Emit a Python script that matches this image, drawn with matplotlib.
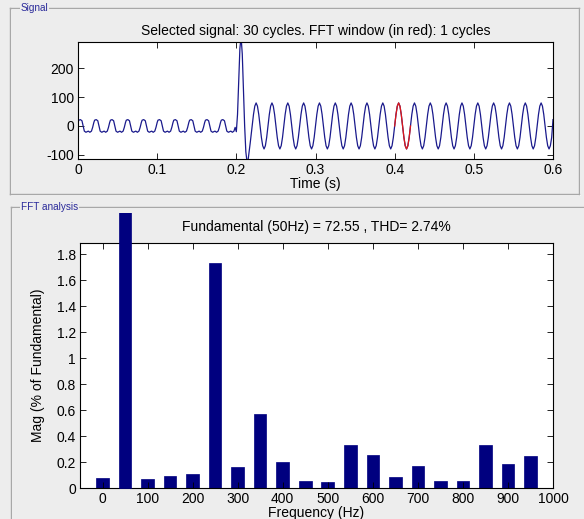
import numpy as np
import matplotlib.pyplot as plt
from matplotlib.lines import Line2D
from matplotlib.ticker import FormatStrFormatter
from matplotlib.transforms import Bbox, TransformedBbox

plt.rcParams['font.family'] = ['Liberation Sans', 'DejaVu Sans']
plt.rcParams['axes.unicode_minus'] = False

# --- signal trace ---
# one pre-fault cycle (20 ms), offsets in ms
pre_cycle_ms = [0, 1, 3, 5, 6.5, 8, 10, 13, 15, 17, 18.5]
pre_cycle_val = [12, 20, 22, 18, 0, -18, -22, -18, -22, -18, -5]
n_pre_cycles = 10

# fault transient around 0.2 s
transient_ms = [200, 201.5, 203, 204.5, 206, 207.5, 209, 210.5, 212, 213.5, 215, 217.5]
transient_val = [-20, 40, 160, 270, 310, 250, 130, 0, -90, -125, -115, -60]

# one post-fault cycle (20 ms), starts at 220 ms
post_cycle_ms = [0, 1.67, 3.33, 5, 6.67, 8.33, 10, 11.67, 13.33, 15, 16.67, 18.33]
post_cycle_val = [0, 40, 69, 80, 69, 40, 0, -40, -69, -80, -69, -40]
n_post_cycles = 19
end_ms, end_val = 600, 22

fft_window = (0.40, 0.42)

# --- FFT bars ---
freqs = [0, 50, 100, 150, 200, 250, 300, 350, 400, 450,
         500, 550, 600, 650, 700, 750, 800, 850, 900, 950]
mags = [0.077, 100, 0.069, 0.09, 0.108, 1.731, 0.161, 0.571, 0.202, 0.056,
        0.044, 0.333, 0.253, 0.082, 0.169, 0.056, 0.056, 0.333, 0.187, 0.246]

t_ms, v = [], []
for k in range(n_pre_cycles):
    t_ms += [20 * k + m for m in pre_cycle_ms]
    v += pre_cycle_val
t_ms += transient_ms
v += transient_val
for k in range(n_post_cycles):
    t_ms += [220 + 20 * k + m for m in post_cycle_ms]
    v += post_cycle_val
t_ms.append(end_ms)
v.append(end_val)
t = np.array(t_ms) / 1000.0
v = np.array(v)

W, H = 584, 519
bg = '#ededed'
fs = 10
fig = plt.figure(figsize=(W / 100, H / 100), dpi=100, facecolor=bg)


def fx(x):
    return x / W


def fy(y):
    return 1 - y / H


def frame_line(x0, y0, x1, y1):
    fig.add_artist(Line2D([fx(x0), fx(x1)], [fy(y0), fy(y1)], color='#a8a8a8',
                          lw=1, transform=fig.transFigure))
    fig.add_artist(Line2D([fx(x0) + 1 / W, fx(x1) + 1 / W], [fy(y0) - 1 / H, fy(y1) - 1 / H],
                          color='white', lw=0.8, transform=fig.transFigure, zorder=0.5))


# panels
frame_line(10, 8, 579, 8)
frame_line(10, 8, 10, 194)
frame_line(10, 194, 579, 194)
frame_line(579, 8, 579, 194)
frame_line(11, 207, 584, 207)
frame_line(11, 207, 11, 530)
fig.text(fx(21), fy(8), 'Signal', color='#2a2a9a', fontsize=7.2, va='center', ha='left',
         bbox=dict(facecolor=bg, edgecolor='none', pad=0.5))
fig.text(fx(21), fy(207), 'FFT analysis', color='#2a2a9a', fontsize=7.2, va='center',
         ha='left', bbox=dict(facecolor=bg, edgecolor='none', pad=0.5))

navy = '#00007f'

# --- signal axes ---
ax1 = fig.add_axes([fx(78), fy(159), (553 - 78) / W, (159 - 42) / H])
ax1.plot(t, v, color='#1a1a8c', lw=0.9)
win = (t >= fft_window[0]) & (t <= fft_window[1] + 1e-9)
ax1.plot(t[win], v[win], color='#e01818', lw=0.9)
ax1.set_xlim(0, 0.6)
ax1.set_ylim(-115, 292)
ax1.set_xticks(np.arange(0, 0.61, 0.1))
ax1.set_yticks([-100, 0, 100, 200])
ax1.xaxis.set_major_formatter(FormatStrFormatter('%g'))
ax1.set_xlabel('Time (s)', fontsize=fs, labelpad=0)
ax1.set_title('Selected signal: 30 cycles. FFT window (in red): 1 cycles', fontsize=fs, pad=5)

# --- FFT axes ---
ax2 = fig.add_axes([fx(80), fy(488), (553 - 80) / W, (488 - 243) / H])
bars = ax2.bar(freqs, mags, width=28, color=navy, edgecolor=navy, lw=0.5)
ax2.set_xlim(-50, 1000)
ax2.set_ylim(0, 1.888)
ax2.set_xticks(np.arange(0, 1001, 100))
ax2.set_yticks(np.arange(0, 1.81, 0.2))
ax2.yaxis.set_major_formatter(FormatStrFormatter('%g'))
ax2.set_xlabel('Frequency (Hz)', fontsize=fs, labelpad=0)
ax2.set_ylabel('Mag (% of Fundamental)', fontsize=fs, labelpad=8)
ax2.set_title('Fundamental (50Hz) = 72.55 , THD= 2.74%', fontsize=fs, pad=9)
# the fundamental bar runs past the top of the axes, cut at the panel
clip = TransformedBbox(Bbox([[0, 0], [1, fy(213)]]), fig.transFigure)
bars[1].set_clip_box(clip)
bars[1].set_zorder(3)

for ax in (ax1, ax2):
    ax.tick_params(direction='in', top=True, right=True, length=4, width=0.6,
                   labelsize=fs, pad=3)
    for s in ax.spines.values():
        s.set_linewidth(0.8)

fig.savefig('out.png', dpi=100, facecolor=bg)
